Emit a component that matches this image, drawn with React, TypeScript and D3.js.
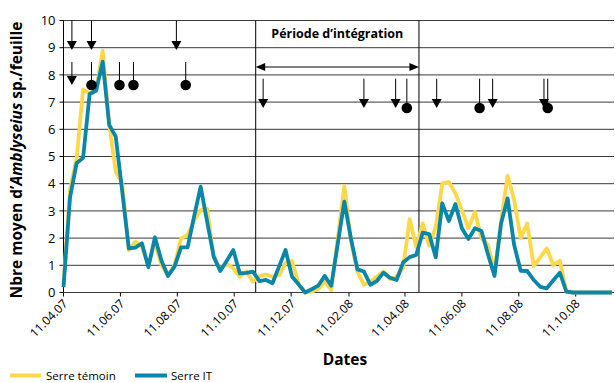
import React from "react";
import * as d3 from "d3";

const dates: string[] = [
  "2007-04-11","2007-04-18","2007-04-25","2007-05-02","2007-05-09","2007-05-16","2007-05-23","2007-05-30",
  "2007-06-06","2007-06-13","2007-06-20","2007-06-27","2007-07-04","2007-07-11","2007-07-18","2007-07-25",
  "2007-08-01","2007-08-08","2007-08-15","2007-08-22","2007-08-29","2007-09-05","2007-09-12","2007-09-19",
  "2007-09-26","2007-10-03","2007-10-10","2007-10-17","2007-10-24","2007-10-31","2007-11-07","2007-11-14",
  "2007-11-21","2007-11-28","2007-12-05","2007-12-12","2007-12-19","2007-12-26","2008-01-02","2008-01-09",
  "2008-01-16","2008-01-23","2008-01-30","2008-02-06","2008-02-13","2008-02-20","2008-02-27","2008-03-05",
  "2008-03-12","2008-03-19","2008-03-26","2008-04-02","2008-04-09","2008-04-16","2008-04-23","2008-04-30",
  "2008-05-07","2008-05-14","2008-05-21","2008-05-28","2008-06-04","2008-06-11","2008-06-18","2008-06-25",
  "2008-07-02","2008-07-09","2008-07-16","2008-07-23","2008-07-30","2008-08-06","2008-08-13","2008-08-20",
  "2008-08-27","2008-09-03","2008-09-10","2008-09-17","2008-09-24","2008-10-01","2008-10-08","2008-10-15",
  "2008-10-22","2008-10-29","2008-11-05","2008-11-12","2008-11-19",
];

const serreTemoin: number[] = [
  0.3, 3.8, 4.9, 7.47, 7.32, 7.44, 8.89, 6.2, 4.44, 4.0,
  1.56, 1.87, 1.68, 1.0, 1.87, 1.0, 0.64, 1.0, 1.99, 2.11,
  2.65, 3.03, 3.08, 1.3, 0.86, 1.05, 0.89, 0.58, 0.77, 0.4,
  0.6, 0.66, 0.58, 0.64, 1.07, 1.16, 0.3, 0.0, 0.03, 0.12,
  0.4, 0.09, 2.0, 3.92, 1.93, 0.77, 0.28, 0.4, 0.6, 0.77,
  0.49, 0.58, 0.9, 2.7, 1.68, 2.54, 1.71, 2.42, 4.01, 4.07,
  3.65, 3.03, 2.36, 2.97, 1.99, 1.75, 0.77, 2.6, 4.3, 3.4,
  2.0, 2.54, 0.97, 1.29, 1.62, 1.01, 1.17, 0.03,
  0, 0, 0, 0, 0, 0, 0,
];

const serreIT: number[] = [
  0.2, 3.5, 4.75, 4.95, 7.3, 7.42, 8.49, 6.16, 5.73, 3.7,
  1.62, 1.65, 1.81, 0.93, 2.03, 1.17, 0.61, 0.95, 1.66, 1.66,
  2.8, 3.89, 2.6, 1.32, 0.79, 1.17, 1.56, 0.7, 0.72, 0.77,
  0.42, 0.46, 0.34, 0.95, 1.56, 0.58, 0.3, 0.0, 0.12, 0.25,
  0.61, 0.25, 1.8, 3.34, 2.0, 0.85, 0.77, 0.28, 0.43, 0.73,
  0.54, 0.46, 1.1, 1.3, 1.38, 2.2, 2.15, 1.29, 3.28, 2.63,
  3.25, 2.36, 1.97, 2.36, 2.26, 1.4, 0.61, 2.54, 3.46, 1.75,
  0.8, 0.79, 0.46, 0.21, 0.15, 0.45, 0.73, 0.03,
  0, 0, 0, 0, 0, 0, 0,
];

const xTickLabels: string[] = [
  "11.04.07","11.06.07","11.08.07","11.10.07","11.12.07",
  "11.02.08","11.04.08","11.06.08","11.08.08","11.10.08",
];
const yTicks: number[] = [0,1,2,3,4,5,6,7,8,9,10];

// treatments: row 1 (top), row 2, row 3 ; kind arrow or dot
const markRow: number[] = [1, 1, 1, 2, 2, 2, 2, 2, 3, 3, 3, 3, 3, 3, 3, 3, 3];
const markKind: string[] = ["arrow","arrow","arrow","arrow","dot","dot","dot","dot",
  "arrow","arrow","arrow","dot","arrow","dot","arrow","arrow","dot"];
const markDate: string[] = [
  "2007-04-20","2007-05-11","2007-08-10",
  "2007-04-20","2007-05-11","2007-06-10","2007-06-25","2007-08-20",
  "2007-11-11","2008-02-27","2008-04-01","2008-04-13","2008-05-15","2008-06-30","2008-07-14","2008-09-07","2008-09-11",
];
const periodStart = "2007-11-03";
const periodEnd = "2008-04-26";
const periodLabel = "Période d’intégration";

const parse = (s: string) => {
  const [y, m, d] = s.split("-").map(Number);
  return new Date(y, m - 1, d);
};
const parseTick = (s: string) => {
  const [d, m, y] = s.split(".").map(Number);
  return new Date(2000 + y, m - 1, d);
};

const FONT = "'Open Sans', sans-serif";
const YELLOW = "#FFD84A";
const BLUE = "#0A86AA";

export default function App() {
  const left = 63.5, right = 614, top = 20.5, bottom = 292.5;
  const x = d3.scaleTime()
    .domain([parseTick("11.04.07"), parseTick("11.10.08")])
    .range([63.5, 575.7]);
  const y = d3.scaleLinear().domain([0, 10]).range([bottom, top]);

  const line = d3.line<[Date, number]>()
    .x((d) => x(d[0]))
    .y((d) => y(d[1]));
  const ptsT: [Date, number][] = dates.map((d, i) => [parse(d), serreTemoin[i]]);
  const ptsI: [Date, number][] = dates.map((d, i) => [parse(d), serreIT[i]]);

  const rows: Record<number, { y0: number; tip: number }> = {
    1: { y0: top, tip: 50 },
    2: { y0: 62, tip: 85 },
    3: { y0: 78.7, tip: 108 },
  };

  const xs = x(parse(periodStart));
  const xe = x(parse(periodEnd));
  const ya = 67;

  return (
    <svg width={615} height={383} style={{ position: "fixed", left: 0, top: 0, background: "#fff" }}
      fontFamily={FONT}>
      <rect width={615} height={383} fill="#fff" />
      {/* grid */}
      {yTicks.map((t) => (
        <line key={"g" + t} x1={left} x2={right} y1={y(t)} y2={y(t)} stroke="#3a3a3a" strokeWidth={1} />
      ))}
      {/* y axis */}
      <line x1={left} x2={left} y1={top} y2={bottom} stroke="#000" />
      {yTicks.map((t) => (
        <g key={"yt" + t}>
          <line x1={left - 4} x2={left} y1={y(t)} y2={y(t)} stroke="#000" />
          <text x={left - 8} y={y(t)} dy="0.36em" textAnchor="end" fontSize={13} fill="#000">{t}</text>
        </g>
      ))}
      {/* x axis ticks */}
      {xTickLabels.map((s) => {
        const xx = x(parseTick(s));
        return (
          <g key={s}>
            <line x1={xx} x2={xx} y1={bottom} y2={bottom + 4} stroke="#000" />
            <text transform={`translate(${xx + 2},${bottom + 9}) rotate(-45)`} textAnchor="end" dy="0.35em"
              fontSize={12} fill="#000">{s}</text>
          </g>
        );
      })}
      {/* period boundaries */}
      <line x1={xs} x2={xs} y1={top} y2={bottom} stroke="#000" />
      <line x1={xe} x2={xe} y1={top} y2={bottom} stroke="#000" />
      {/* series */}
      <path d={line(ptsT) || ""} fill="none" stroke={YELLOW} strokeWidth={3.8} strokeLinejoin="round" />
      <path d={line(ptsI) || ""} fill="none" stroke={BLUE} strokeWidth={3.8} strokeLinejoin="round" />
      {/* period label and double arrow */}
      <text x={(xs + xe) / 2} y={38} textAnchor="middle" fontWeight="bold" fontSize={12.5} fill="#000">{periodLabel}</text>
      <line x1={xs + 8} x2={xe - 8} y1={ya} y2={ya} stroke="#000" />
      <path d={`M${xs},${ya} L${xs + 9.5},${ya - 4} L${xs + 9.5},${ya + 4} Z`} fill="#000" />
      <path d={`M${xe},${ya} L${xe - 9.5},${ya - 4} L${xe - 9.5},${ya + 4} Z`} fill="#000" />
      {/* treatment marks */}
      {markDate.map((s, i) => {
        const mx = x(parse(s));
        const r = rows[markRow[i]];
        if (markKind[i] === "arrow") {
          return (
            <g key={"m" + i}>
              <line x1={mx} x2={mx} y1={r.y0} y2={r.tip - 6} stroke="#000" />
              <path d={`M${mx - 5},${r.tip - 9} L${mx + 5},${r.tip - 9} L${mx},${r.tip} Z`} fill="#000" />
            </g>
          );
        }
        return (
          <g key={"m" + i}>
            <line x1={mx} x2={mx} y1={r.y0} y2={r.tip} stroke="#000" />
            <circle cx={mx} cy={r.tip} r={5.3} fill="#000" />
          </g>
        );
      })}
      {/* axis titles */}
      <text transform="translate(22,160) rotate(-90)" textAnchor="middle" fontWeight="bold" fontSize={15.5} fill="#000">
        <tspan>Nbre moyen d’</tspan>
        <tspan fontStyle="italic">Amblyseius</tspan>
        <tspan> sp./feuille</tspan>
      </text>
      <text x={345} y={365} textAnchor="middle" fontWeight="bold" fontSize={15.5} fill="#000">Dates</text>
      {/* legend */}
      <line x1={10} x2={41} y1={375.5} y2={375.5} stroke={YELLOW} strokeWidth={4} />
      <text x={46} y={375.5} dy="0.35em" fontSize={11.5} fill="#000">Serre témoin</text>
      <line x1={135} x2={167} y1={375.5} y2={375.5} stroke={BLUE} strokeWidth={4} />
      <text x={171} y={375.5} dy="0.35em" fontSize={11.5} fill="#000">Serre IT</text>
    </svg>
  );
}
